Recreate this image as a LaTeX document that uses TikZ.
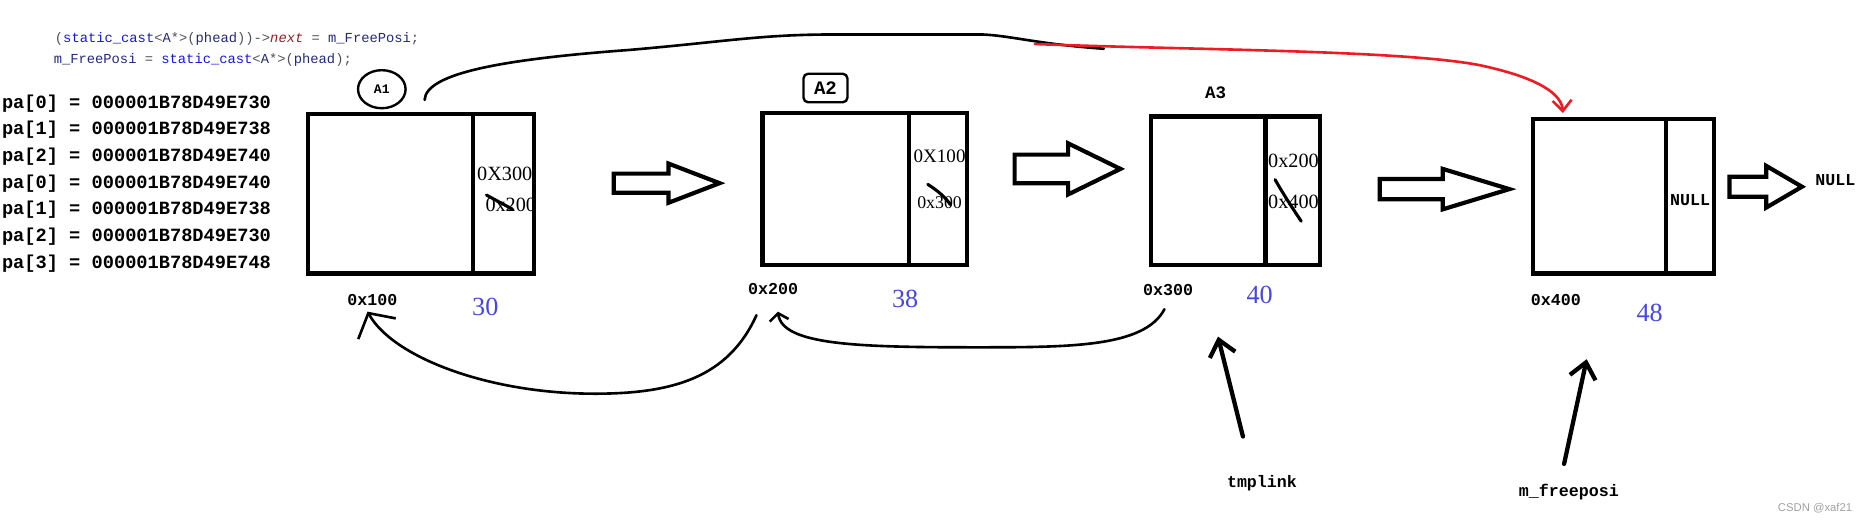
\documentclass[tikz,border=0pt]{standalone}
\usepackage{fontspec}
\usepackage{tikz}
\usetikzlibrary{shapes.geometric, arrows.meta, calc}
\newfontfamily\codemono{Liberation Mono}
\newfontfamily\labelserif{Liberation Serif}
\newfontfamily\marksans{Liberation Sans}
\definecolor{InkRed}{RGB}{237,28,36}
\definecolor{NumBlue}{RGB}{70,70,225}
\definecolor{KwBlue}{RGB}{20,20,235}
\definecolor{IdNavy}{RGB}{35,40,125}
\definecolor{MemRed}{RGB}{150,30,40}
\definecolor{OpGray}{RGB}{80,80,90}
\definecolor{MarkGray}{RGB}{160,160,160}

\begin{document}
\begin{tikzpicture}[x=1pt, y=-1pt,
    cell/.style={draw, line width=3.5pt, inner sep=0pt, outer sep=0pt,
                 anchor=north west},
    hollow/.style={draw, line width=3.5pt},
    hand/.style={line width=2.2pt, line cap=round, line join=round},
    ptr/.style={line width=3.6pt, line cap=round,
                -{Straight Barb[length=13pt,width=22pt]}},
    strike/.style={line width=2.6pt, line cap=round},
    code/.style={font=\codemono\fontsize{11.6pt}{13pt}\selectfont,
                 inner sep=0pt, anchor=west},
    palist/.style={font=\codemono\bfseries\fontsize{15.7pt}{18pt}\selectfont,
                   inner sep=0pt, anchor=west},
    addr/.style={font=\codemono\bfseries\fontsize{14pt}{16pt}\selectfont,
                 inner sep=1pt},
    size/.style={font=\labelserif\fontsize{22pt}{24pt}\selectfont,
                 text=NumBlue, inner sep=1pt},
    field/.style={font=\labelserif\fontsize{17pt}{19pt}\selectfont,
                  inner sep=0pt, anchor=west}
  ]
  \useasboundingbox (0,0) rectangle (1568,439);

  %--- source lines and pa[] dump (left) ---
  \node[code] (code1) at (46,33) {\textcolor{OpGray}{(}\textcolor{KwBlue}{static\_cast}\textcolor{OpGray}{<}\textcolor{IdNavy}{A}\textcolor{OpGray}{*>(}\textcolor{IdNavy}{phead}\textcolor{OpGray}{))->}\textcolor{MemRed}{\itshape next}\ \textcolor{OpGray}{=}\ \textcolor{IdNavy}{m\_FreePosi}\textcolor{OpGray}{;}};
  \node[code] (code2) at (45,50.5) {\textcolor{IdNavy}{m\_FreePosi}\ \textcolor{OpGray}{=}\ \textcolor{KwBlue}{static\_cast}\textcolor{OpGray}{<}\textcolor{IdNavy}{A}\textcolor{OpGray}{*>(}\textcolor{IdNavy}{phead}\textcolor{OpGray}{);}};
  \foreach \k/\addr [count=\n] in {0/E730, 1/E738, 2/E740, 0/E740,
                                   1/E738, 2/E730, 3/E748} {
    \node[palist] (pa\n) at (1.5,{87+22.4*(\n-1)}) {pa[\k] = 000001B78D49\addr};
  }

  %--- next fields (written first, the borders cover them) ---
  \node[field] (f1a) at (401,146) {0X300};
  \node[field] (f1b) at (408,172) {0x200};
  \node[field, font=\labelserif\fontsize{16pt}{18pt}\selectfont] (f2a) at (768,131) {0X100};
  \node[field, font=\labelserif\fontsize{15pt}{17pt}\selectfont] (f2b) at (771,170) {0x300};
  \node[field] (f3a) at (1066,135) {0x200};
  \node[field] (f3b) at (1066,170) {0x400};
  \node[addr] (f4) at (1421,168) {NULL};

  %--- the four blocks ---
  \node[cell, minimum width=139pt, minimum height=134pt] (d1) at (259,96) {};
  \node[cell, minimum width=51pt, minimum height=134pt] (p1) at (398,96) {};
  \node[cell, minimum width=123pt, minimum height=128pt] (d2) at (641,95) {};
  \node[cell, minimum width=49pt, minimum height=128pt] (p2) at (764,95) {};
  \node[cell, minimum width=96pt, minimum height=125pt] (d3) at (968,98) {};
  \node[cell, minimum width=46pt, minimum height=125pt] (p3) at (1064,98) {};
  \node[cell, minimum width=112pt, minimum height=130pt] (d4) at (1289,100) {};
  \node[cell, minimum width=40pt, minimum height=130pt] (p4) at (1401,100) {};

  % crossed-out old links
  \draw[strike] (409,164) -- (431,176);
  \draw[strike] (780,155) .. controls (788,160) and (795,166) .. (799,172);
  \draw[strike] (1072,151) .. controls (1080,165) and (1088,177) .. (1094,186);

  %--- block names ---
  \node[draw, ellipse, line width=2pt, minimum width=40pt, minimum height=32pt,
        inner sep=0pt, font=\codemono\bfseries\fontsize{11pt}{13pt}\selectfont]
        (a1) at (321,75) {A1};
  \node[draw, rounded corners=4pt, line width=2pt, minimum width=37pt,
        minimum height=24pt, inner sep=0pt,
        font=\codemono\bfseries\fontsize{16pt}{18pt}\selectfont]
        (a2) at (694,74) {A2};
  \node[font=\codemono\bfseries\fontsize{14.7pt}{16pt}\selectfont]
        (a3) at (1022,78) {A3};

  %--- hollow arrows between blocks ---
  \foreach \tx/\hx/\px/\yc/\sw/\hw in {516/562/605/154/8/16.5,
        853/898/942/142/12/21.5, 1160/1213/1269/159/8.5/17,
        1454/1485/1515/157/8.4/17.5} {
    \draw[hollow] (\tx,{\yc-\sw}) -- (\hx,{\yc-\sw}) -- (\hx,{\yc-\hw})
      -- (\px,\yc) -- (\hx,{\yc+\hw}) -- (\hx,{\yc+\sw}) -- (\tx,{\yc+\sw}) -- cycle;
  }
  \node[addr] (null) at (1543,151) {NULL};

  %--- addresses and sizes under the blocks ---
  \node[addr] (l100) at (313,252) {0x100};
  \node[size] (s30) at (408,258) {30};
  \node[addr] (l200) at (650,243) {0x200};
  \node[size] (s38) at (761,251) {38};
  \node[addr] (l300) at (982,244) {0x300};
  \node[size] (s40) at (1059,248) {40};
  \node[addr] (l400) at (1308,252) {0x400};
  \node[size] (s48) at (1387,263) {48};

  % links back along the free list
  \draw[hand, -{Straight Barb[length=15pt,width=36pt]}]
        ($(l200.center)+(-14,22)$) .. controls (612,318) and (565,331) .. (500,331)
        .. controls (410,331) and (330,300) .. ($(l100.center)+(-4,10)$);
  \draw[hand, -{Straight Barb[length=6pt,width=16pt]}]
        ($(l300.center)+(-3,16)$) .. controls (962,292) and (900,292) .. (820,292)
        .. controls (720,292) and (658,290) .. ($(l200.center)+(4,19)$);

  % the push: A1 now points to the old head
  \coordinate (redstart) at (870,37);
  \draw[hand] ($(a1.east)+(15,9)$) .. controls (358,62) and (420,50) .. (529,42)
        .. controls (610,35) and (640,29) .. (700,29) -- (826,29)
        .. controls (850,30) and (872,37) .. (928,41);
  \draw[hand, InkRed, -{Straight Barb[length=9pt,width=16pt]}]
        (redstart) .. controls (1000,42) and (1180,42) .. (1245,55)
        .. controls (1296,66) and (1313,80) .. ($(d4.north west)+(25,-5)$);

  %--- pointers ---
  \node[addr] (tmplink) at (1061,406) {tmplink};
  \node[addr] (freeposi) at (1319,414) {m\_freeposi};
  \coordinate (tmptip) at (1024,283);
  \coordinate (freetip) at (1334,302);
  \draw[ptr] ($(tmplink.center)+(-16,-39)$) -- (tmptip);
  \draw[ptr] ($(freeposi.center)+(-4,-24)$) -- (freetip);

  \node[font=\marksans\fontsize{9.5pt}{11pt}\selectfont, text=MarkGray]
        (mark) at (1526,427) {CSDN @xaf21};
\end{tikzpicture}
\end{document}
